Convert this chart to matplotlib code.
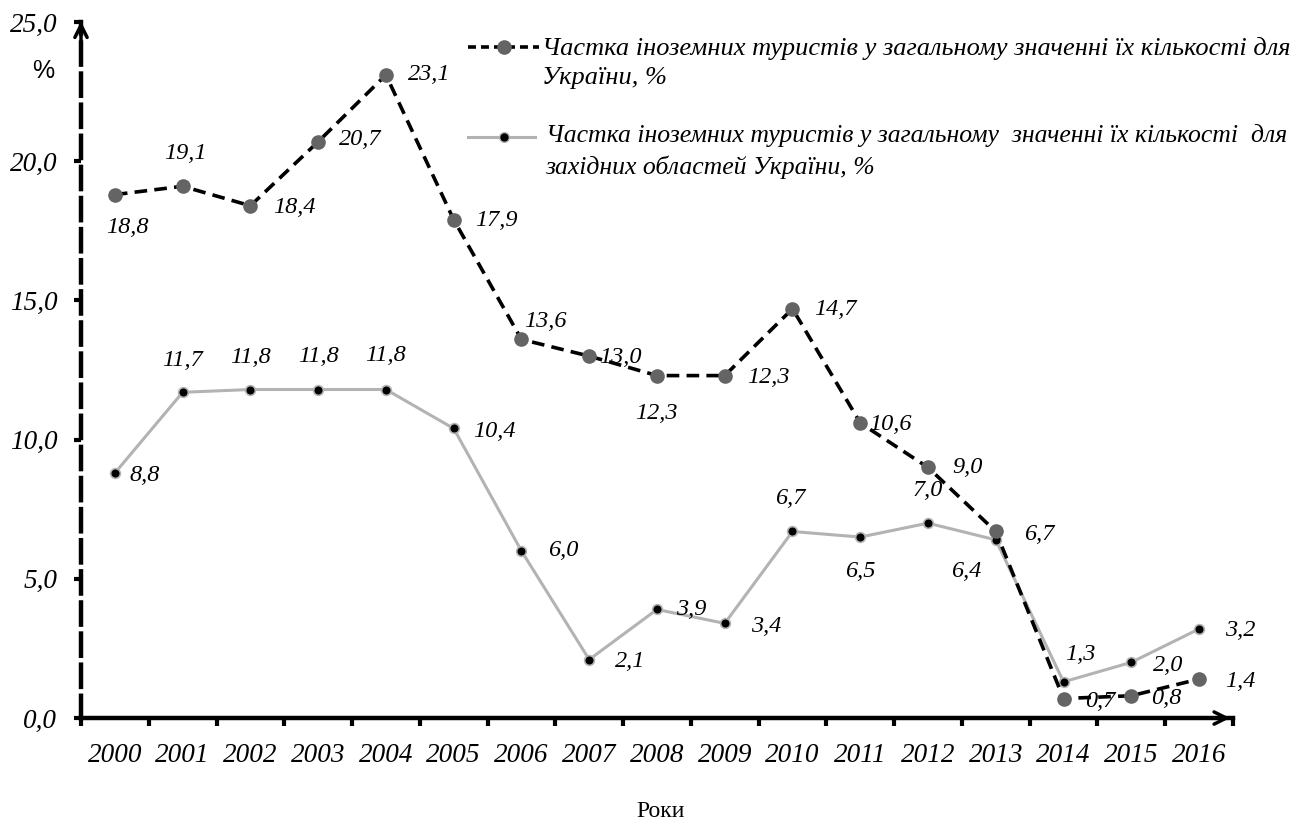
import matplotlib.pyplot as plt
from matplotlib.lines import Line2D

# Дані: частка іноземних туристів, %
roky = ['2000', '2001', '2002', '2003', '2004', '2005', '2006', '2007', '2008',
        '2009', '2010', '2011', '2012', '2013', '2014', '2015', '2016']
ukraina = [18.8, 19.1, 18.4, 20.7, 23.1, 17.9, 13.6, 13.0, 12.3, 12.3, 14.7,
           10.6, 9.0, 6.7, 0.7, 0.8, 1.4]
zakhid = [8.8, 11.7, 11.8, 11.8, 11.8, 10.4, 6.0, 2.1, 3.9, 3.4, 6.7, 6.5,
          7.0, 6.4, 1.3, 2.0, 3.2]

legenda1 = 'Частка іноземних туристів у загальному значенні їх кількості для\nУкраїни, %'
legenda2 = 'Частка іноземних туристів у загальному  значенні їх кількості  для\nзахідних областей України, %'

# зсуви підписів (пікселі) відносно точок
zsuv1 = [(13, -33), (3, 33), (44, -2), (42, 2), (43, 0), (43, -1), (24, 18),
         (31, -1), (-1, -38), (44, -2), (43, -1), (30, -2), (39, 0), (43, -3),
         (37, -3), (35, -3), (41, -2)]
zsuv2 = [(30, -2), (0, 32), (0, 32), (0, 33), (0, 34), (41, -3), (42, 0),
         (41, -2), (34, 0), (41, -3), (-2, 33), (0, -34), (0, 33), (-30, -32),
         (17, 27), (37, -3), (41, -2)]

serif = ['Liberation Serif', 'DejaVu Serif']

fig = plt.figure(figsize=(13.15, 8.4), dpi=100)
ax = fig.add_axes([0.0616, 0.1452, 0.876, 0.8286])

x = list(range(len(roky)))
ax.plot(x, zakhid, color='#b3b3b3', lw=2.2, marker='o', ms=7,
        mfc='black', mec='#b3b3b3', mew=1.2, zorder=3)
ax.plot(x, ukraina, color='black', lw=2.6, ls=(0, (3.5, 2)), marker='o',
        ms=9.5, mfc='#646464', mec='#646464', zorder=4)

for xi, v, (dx, dy) in zip(x, ukraina, zsuv1):
    ax.annotate(f'{v:.1f}'.replace('.', ','), (xi, v), xytext=(dx, dy),
                textcoords='offset pixels', ha='center', va='center',
                fontsize=17.5, style='italic', family=serif, zorder=5)
for xi, v, (dx, dy) in zip(x, zakhid, zsuv2):
    ax.annotate(f'{v:.1f}'.replace('.', ','), (xi, v), xytext=(dx, dy),
                textcoords='offset pixels', ha='center', va='center',
                fontsize=17.5, style='italic', family=serif, zorder=5)

ax.set_xlim(-0.5, 16.5)
ax.set_ylim(0, 25)

# осі
for s in ['top', 'right']:
    ax.spines[s].set_visible(False)
ax.spines['bottom'].set_linewidth(3.2)
ax.spines['left'].set_linewidth(3.2)
ax.spines['left'].set_linestyle((0, (5, 2)))
ax.annotate('', xy=(1.0, 0), xytext=(0.97, 0), xycoords='axes fraction',
            arrowprops=dict(arrowstyle='->', lw=2.5, mutation_scale=22))
ax.annotate('', xy=(0, 1.005), xytext=(0, 0.97), xycoords='axes fraction',
            arrowprops=dict(arrowstyle='->', lw=2.5, mutation_scale=22))

ax.set_yticks([0, 5, 10, 15, 20, 25])
ax.set_yticklabels(['0,0', '5,0', '10,0', '15,0', '20,0', '25,0'])
ax.tick_params(axis='y', length=5, width=3, pad=12)
ax.set_xticks(x)
ax.set_xticklabels(roky)
ax.set_xticks([i - 0.5 for i in range(len(roky) + 1)], minor=True)
ax.tick_params(axis='x', which='major', length=0, pad=18)
ax.tick_params(axis='x', which='minor', length=6, width=3)
for lab in ax.get_xticklabels() + ax.get_yticklabels():
    lab.set_fontsize(19.5)
    lab.set_style('italic')
    lab.set_family(serif)

fig.text(0.033, 0.915, '%', fontsize=18, ha='center', va='center',
         family=['Liberation Sans', 'DejaVu Sans'])
fig.text(0.502, 0.034, 'Роки', fontsize=17, ha='center', va='center', family=serif)

# легенда
fig.add_artist(Line2D([0.356, 0.383, 0.410], [0.944, 0.944, 0.944], color='black',
                      lw=2.6, ls=(0, (2.2, 1.4)), marker='o', markevery=[1],
                      ms=9.5, mfc='#646464', mec='#646464'))
fig.add_artist(Line2D([0.356, 0.383, 0.407], [0.837, 0.837, 0.837], color='#b3b3b3',
                      lw=2.2, marker='o', markevery=[1], ms=7, mfc='black',
                      mec='#b3b3b3'))
fig.text(0.412, 0.956, legenda1, fontsize=19, style='italic', family=serif,
         va='top', linespacing=1.4)
fig.text(0.415, 0.852, legenda2, fontsize=18.5, style='italic', family=serif,
         va='top', linespacing=1.45)

fig.savefig('out.png', dpi=100)
